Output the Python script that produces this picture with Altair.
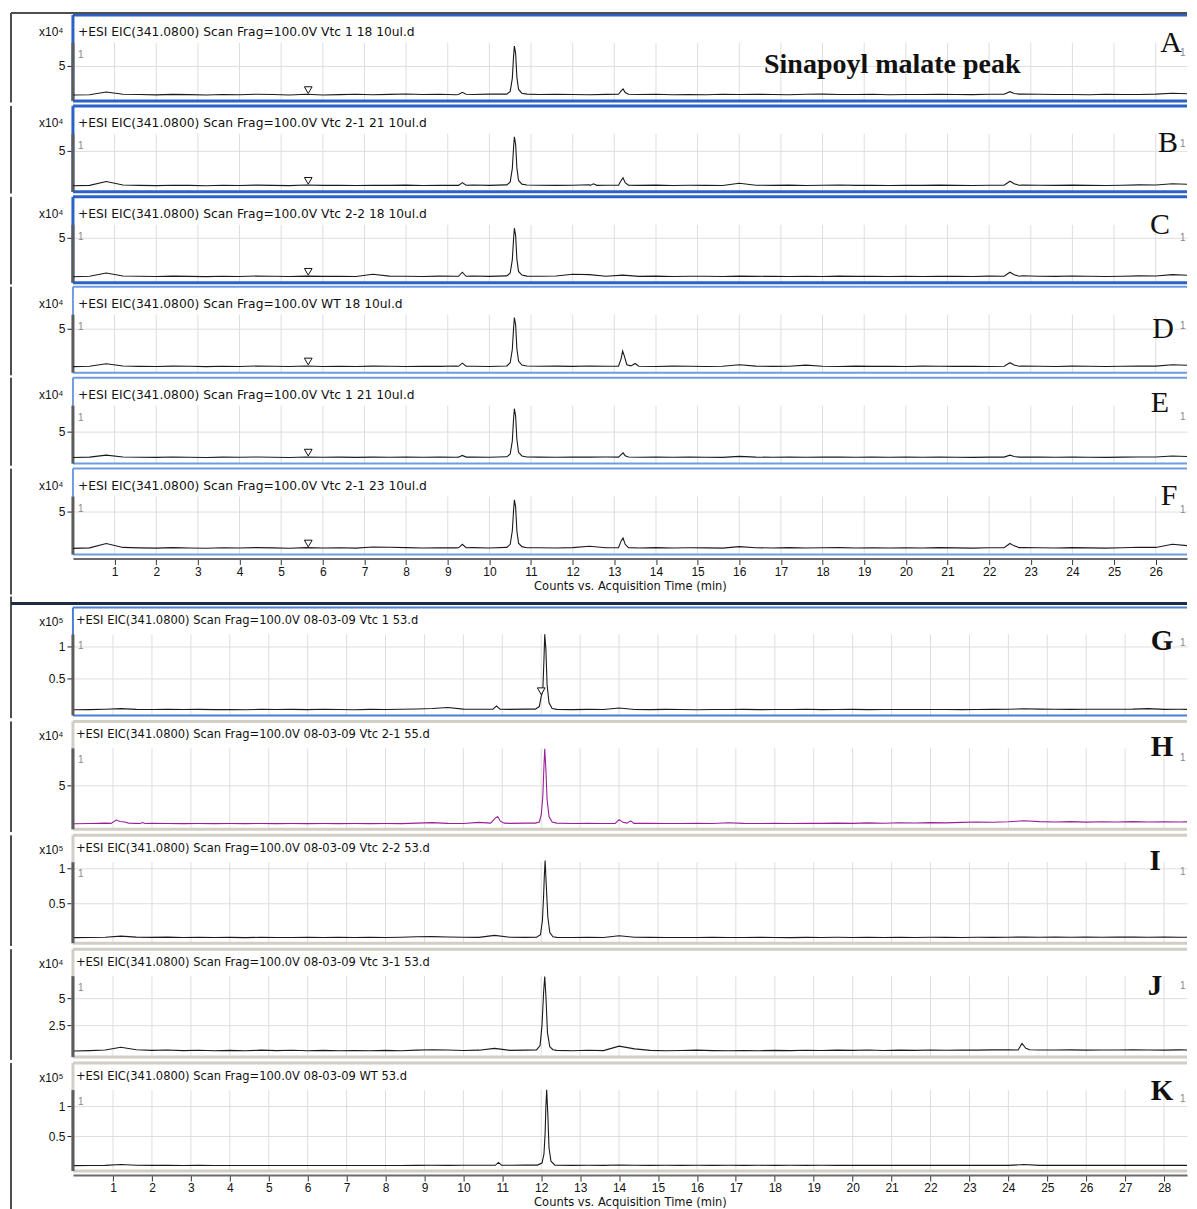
import altair as alt
import pandas as pd

# ---------------- data ----------------
TOP_GRID = [0.0, 0.4, 0.8, 1.2, 1.6, 2.0, 2.4, 2.8, 3.2, 3.6,
            4.0, 4.4, 4.8, 5.2, 5.6, 6.0, 6.4, 6.8, 7.2, 7.6,
            8.0, 8.4, 8.8, 9.2, 9.6, 10.0, 10.4, 10.8, 11.2, 11.6,
            12.0, 12.4, 12.8, 13.2, 13.6, 14.0, 14.4, 14.8, 15.2, 15.6,
            16.0, 16.4, 16.8, 17.2, 17.6, 18.0, 18.4, 18.8, 19.2, 19.6,
            20.0, 20.4, 20.8, 21.2, 21.6, 22.0, 22.4, 22.8, 23.2, 23.6,
            24.0, 24.4, 24.8, 25.2, 25.6, 26.0, 26.4, 26.8, 27.2]
BOT_GRID = [0.0, 0.4, 0.8, 1.2, 1.6, 2.0, 2.4, 2.8, 3.2, 3.6,
            4.0, 4.4, 4.8, 5.2, 5.6, 6.0, 6.4, 6.8, 7.2, 7.6,
            8.0, 8.4, 8.8, 9.2, 9.6, 10.0, 10.4, 10.8, 11.2, 11.6,
            12.0, 12.4, 12.8, 13.2, 13.6, 14.0, 14.4, 14.8, 15.2, 15.6,
            16.0, 16.4, 16.8, 17.2, 17.6, 18.0, 18.4, 18.8, 19.2, 19.6,
            20.0, 20.4, 20.8, 21.2, 21.6, 22.0, 22.4, 22.8, 23.2, 23.6,
            24.0, 24.4, 24.8, 25.2, 25.6, 26.0, 26.4, 26.8, 27.2, 27.6,
            28.0, 28.4, 28.8, 29.2]
TOP_TICKS = [1, 2, 3, 4, 5, 6, 7, 8, 9, 10, 11, 12, 13, 14, 15, 16, 17, 18, 19, 20,
             21, 22, 23, 24, 25, 26]
BOT_TICKS = [1, 2, 3, 4, 5, 6, 7, 8, 9, 10, 11, 12, 13, 14, 15, 16, 17, 18, 19, 20,
             21, 22, 23, 24, 25, 26, 27, 28]

# top block, x10^4 counts
A_BASE = [0.30, 0.36, 0.80, 0.42, 0.38, 0.33, 0.41, 0.37, 0.32, 0.40,
          0.36, 0.43, 0.38, 0.31, 0.44, 0.30, 0.37, 0.42, 0.35, 0.41,
          0.46, 0.38, 0.42, 0.36, 0.40, 0.45, 0.48, 0.44, 0.40, 0.42,
          0.38, 0.36, 0.41, 0.45, 0.38, 0.42, 0.36, 0.40, 0.35, 0.44,
          0.38, 0.42, 0.40, 0.36, 0.42, 0.45, 0.38, 0.40, 0.42, 0.36,
          0.40, 0.38, 0.42, 0.40, 0.37, 0.44, 0.45, 0.48, 0.42, 0.38,
          0.40, 0.36, 0.42, 0.40, 0.38, 0.45, 0.60, 0.50, 0.45]
A_PEAKS = [
    [(9.26, 0.40), (9.35, 0.75), (9.44, 0.42)],
    [(10.42, 0.45), (10.5, 0.9), (10.55, 3.0), (10.58, 6.5), (10.6, 8.2), (10.63, 7.0),
     (10.66, 3.2), (10.7, 1.2), (10.78, 0.6), (10.9, 0.45)],
    [(13.1, 0.42), (13.17, 1.0), (13.21, 1.3), (13.26, 0.7), (13.34, 0.42)],
    [(22.36, 0.42), (22.5, 0.85), (22.6, 0.55), (22.72, 0.45)],
]
B_BASE = [0.28, 0.33, 0.85, 0.38, 0.34, 0.30, 0.36, 0.33, 0.29, 0.35,
          0.32, 0.37, 0.34, 0.30, 0.38, 0.33, 0.36, 0.31, 0.35, 0.33,
          0.37, 0.32, 0.36, 0.34, 0.38, 0.33, 0.40, 0.38, 0.35, 0.33,
          0.36, 0.42, 0.36, 0.40, 0.33, 0.37, 0.32, 0.35, 0.34, 0.31,
          0.62, 0.36, 0.33, 0.37, 0.32, 0.35, 0.38, 0.33, 0.36, 0.32,
          0.35, 0.33, 0.37, 0.34, 0.31, 0.36, 0.40, 0.38, 0.36, 0.33,
          0.37, 0.34, 0.31, 0.36, 0.40, 0.38, 0.55, 0.48, 0.42]
B_PEAKS = [
    [(9.26, 0.34), (9.35, 0.7), (9.44, 0.35)],
    [(10.42, 0.4), (10.5, 0.8), (10.55, 2.6), (10.58, 5.4), (10.6, 6.9), (10.63, 5.9),
     (10.66, 2.7), (10.7, 1.0), (10.78, 0.5), (10.9, 0.38)],
    [(12.42, 0.33), (12.5, 0.55), (12.58, 0.34)],
    [(13.1, 0.35), (13.17, 1.05), (13.21, 1.35), (13.26, 0.7), (13.34, 0.36)],
    [(22.36, 0.35), (22.5, 0.9), (22.6, 0.55), (22.72, 0.36)],
]
C_BASE = [0.25, 0.30, 0.70, 0.34, 0.30, 0.27, 0.32, 0.29, 0.26, 0.31,
          0.28, 0.33, 0.30, 0.27, 0.32, 0.29, 0.31, 0.27, 0.55, 0.32,
          0.30, 0.27, 0.32, 0.30, 0.33, 0.29, 0.35, 0.34, 0.31, 0.33,
          0.55, 0.50, 0.31, 0.45, 0.29, 0.32, 0.28, 0.31, 0.30, 0.27,
          0.32, 0.29, 0.31, 0.27, 0.30, 0.28, 0.32, 0.29, 0.31, 0.27,
          0.30, 0.28, 0.31, 0.29, 0.27, 0.32, 0.35, 0.36, 0.31, 0.29,
          0.33, 0.30, 0.28, 0.31, 0.35, 0.33, 0.50, 0.42, 0.38]
C_PEAKS = [
    [(9.26, 0.30), (9.35, 0.8), (9.44, 0.30)],
    [(10.42, 0.35), (10.5, 0.7), (10.55, 2.3), (10.58, 4.8), (10.6, 6.2), (10.63, 5.3),
     (10.66, 2.4), (10.7, 0.9), (10.78, 0.45), (10.9, 0.32)],
    [(22.36, 0.30), (22.5, 0.8), (22.6, 0.5), (22.72, 0.31)],
]
D_BASE = [0.26, 0.30, 0.62, 0.34, 0.29, 0.27, 0.32, 0.30, 0.26, 0.31,
          0.28, 0.33, 0.30, 0.27, 0.33, 0.28, 0.31, 0.28, 0.32, 0.30,
          0.27, 0.31, 0.29, 0.33, 0.30, 0.28, 0.34, 0.33, 0.30, 0.32,
          0.29, 0.33, 0.30, 0.30, 0.31, 0.28, 0.32, 0.30, 0.27, 0.31,
          0.50, 0.32, 0.29, 0.31, 0.45, 0.30, 0.28, 0.32, 0.29, 0.31,
          0.28, 0.32, 0.30, 0.29, 0.31, 0.28, 0.32, 0.34, 0.30, 0.28,
          0.32, 0.30, 0.27, 0.31, 0.34, 0.32, 0.50, 0.42, 0.36]
D_PEAKS = [
    [(9.26, 0.30), (9.35, 0.7), (9.44, 0.31)],
    [(10.42, 0.35), (10.5, 0.75), (10.55, 2.4), (10.58, 5.0), (10.6, 6.4), (10.63, 5.5),
     (10.66, 2.5), (10.7, 0.95), (10.78, 0.45), (10.9, 0.33)],
    [(13.1, 0.32), (13.16, 1.2), (13.2, 2.2), (13.24, 1.6), (13.3, 0.5), (13.4, 0.35),
     (13.5, 0.65), (13.58, 0.33)],
    [(22.36, 0.30), (22.5, 0.75), (22.6, 0.45), (22.72, 0.30)],
]
E_BASE = [0.38, 0.44, 0.80, 0.48, 0.43, 0.40, 0.46, 0.42, 0.38, 0.45,
          0.41, 0.47, 0.43, 0.39, 0.48, 0.42, 0.45, 0.40, 0.44, 0.42,
          0.46, 0.41, 0.45, 0.43, 0.47, 0.42, 0.50, 0.48, 0.45, 0.43,
          0.47, 0.44, 0.46, 0.50, 0.43, 0.46, 0.41, 0.44, 0.43, 0.40,
          0.58, 0.45, 0.42, 0.46, 0.41, 0.44, 0.47, 0.42, 0.45, 0.41,
          0.44, 0.42, 0.46, 0.43, 0.40, 0.45, 0.48, 0.48, 0.45, 0.42,
          0.46, 0.43, 0.40, 0.45, 0.48, 0.46, 0.65, 0.55, 0.50]
E_PEAKS = [
    [(9.26, 0.44), (9.35, 0.75), (9.44, 0.45)],
    [(10.42, 0.5), (10.5, 1.0), (10.55, 3.3), (10.58, 7.2), (10.6, 9.1), (10.63, 7.8),
     (10.66, 3.6), (10.7, 1.3), (10.78, 0.65), (10.9, 0.48)],
    [(13.1, 0.45), (13.17, 0.95), (13.21, 1.2), (13.26, 0.7), (13.34, 0.46)],
    [(22.36, 0.45), (22.5, 0.8), (22.6, 0.55), (22.72, 0.45)],
]
F_BASE = [0.28, 0.34, 0.90, 0.40, 0.34, 0.31, 0.37, 0.33, 0.29, 0.36,
          0.32, 0.38, 0.34, 0.30, 0.38, 0.32, 0.36, 0.31, 0.45, 0.42,
          0.37, 0.32, 0.36, 0.34, 0.38, 0.33, 0.40, 0.38, 0.35, 0.33,
          0.38, 0.55, 0.36, 0.40, 0.33, 0.37, 0.32, 0.35, 0.34, 0.31,
          0.50, 0.36, 0.33, 0.37, 0.32, 0.35, 0.38, 0.33, 0.36, 0.32,
          0.35, 0.33, 0.37, 0.34, 0.31, 0.36, 0.40, 0.38, 0.36, 0.33,
          0.37, 0.34, 0.31, 0.36, 0.42, 0.40, 0.80, 0.60, 0.48]
F_PEAKS = [
    [(9.26, 0.35), (9.35, 0.8), (9.44, 0.36)],
    [(10.42, 0.4), (10.5, 0.8), (10.55, 2.5), (10.58, 5.1), (10.6, 6.5), (10.63, 5.6),
     (10.66, 2.5), (10.7, 0.95), (10.78, 0.5), (10.9, 0.36)],
    [(13.1, 0.36), (13.17, 1.3), (13.21, 1.6), (13.26, 0.8), (13.34, 0.37)],
    [(22.36, 0.36), (22.5, 0.9), (22.6, 0.6), (22.72, 0.38)],
]

# bottom block
G_BASE = [0.010, 0.012, 0.018, 0.028, 0.016, 0.014, 0.018, 0.013, 0.016, 0.012,
          0.015, 0.011, 0.017, 0.013, 0.016, 0.012, 0.018, 0.014, 0.011, 0.016,
          0.013, 0.017, 0.022, 0.030, 0.045, 0.020, 0.018, 0.025, 0.016, 0.020,
          0.025, 0.015, 0.012, 0.016, 0.013, 0.038, 0.015, 0.012, 0.016, 0.013,
          0.011, 0.015, 0.013, 0.016, 0.012, 0.015, 0.013, 0.017, 0.012, 0.014,
          0.016, 0.012, 0.013, 0.014, 0.015, 0.013, 0.014, 0.012, 0.015, 0.016,
          0.018, 0.026, 0.020, 0.018, 0.016, 0.019, 0.017, 0.018, 0.020, 0.028,
          0.016, 0.018, 0.015, 0.017]
G_PEAKS = [
    [(10.76, 0.018), (10.85, 0.07), (10.94, 0.02)],
    [(11.85, 0.02), (11.95, 0.06), (12.0, 0.22), (12.04, 0.3), (12.07, 0.8), (12.09, 1.19),
     (12.12, 0.95), (12.15, 0.4), (12.2, 0.12), (12.28, 0.03), (12.4, 0.016)],
]
H_BASE = [0.08, 0.10, 0.15, 0.45, 0.12, 0.12, 0.10, 0.09, 0.10, 0.09,
          0.10, 0.09, 0.10, 0.09, 0.10, 0.09, 0.10, 0.09, 0.10, 0.09,
          0.10, 0.09, 0.15, 0.22, 0.12, 0.10, 0.25, 0.30, 0.12, 0.15,
          0.20, 0.12, 0.10, 0.12, 0.10, 0.55, 0.12, 0.12, 0.10, 0.11,
          0.12, 0.10, 0.20, 0.12, 0.10, 0.13, 0.10, 0.14, 0.12, 0.15,
          0.12, 0.18, 0.14, 0.20, 0.17, 0.22, 0.18, 0.25, 0.30, 0.26,
          0.32, 0.45, 0.35, 0.30, 0.34, 0.28, 0.33, 0.30, 0.35, 0.30,
          0.33, 0.29, 0.34, 0.31]
H_PEAKS = [
    [(0.95, 0.12), (1.08, 0.55), (1.18, 0.35), (1.3, 0.3), (1.4, 0.15)],
    [(1.7, 0.10), (1.76, 0.22), (1.82, 0.10)],
    [(10.7, 0.15), (10.82, 0.8), (10.88, 1.0), (10.95, 0.4), (11.05, 0.15)],
    [(11.85, 0.15), (11.95, 0.3), (12.0, 1.2), (12.04, 3.5), (12.07, 7.5), (12.09, 9.7),
     (12.12, 7.0), (12.15, 3.2), (12.2, 1.0), (12.28, 0.3), (12.4, 0.15)],
    [(13.9, 0.12), (14.0, 0.6), (14.1, 0.25), (14.2, 0.15), (14.3, 0.45), (14.38, 0.12)],
]
I_BASE = [0.008, 0.010, 0.014, 0.030, 0.016, 0.012, 0.015, 0.011, 0.013, 0.010,
          0.012, 0.009, 0.013, 0.011, 0.010, 0.013, 0.011, 0.014, 0.010, 0.012,
          0.011, 0.014, 0.020, 0.022, 0.018, 0.013, 0.012, 0.040, 0.014, 0.012,
          0.016, 0.012, 0.010, 0.012, 0.011, 0.035, 0.014, 0.012, 0.010, 0.011,
          0.010, 0.012, 0.011, 0.010, 0.012, 0.011, 0.009, 0.012, 0.011, 0.013,
          0.011, 0.012, 0.010, 0.012, 0.011, 0.013, 0.012, 0.011, 0.013, 0.012,
          0.014, 0.016, 0.013, 0.015, 0.014, 0.016, 0.014, 0.015, 0.017, 0.014,
          0.015, 0.013, 0.016, 0.014]
I_PEAKS = [
    [(11.88, 0.014), (11.98, 0.05), (12.03, 0.25), (12.06, 0.6), (12.08, 0.9), (12.1, 1.11),
     (12.13, 0.75), (12.17, 0.3), (12.22, 0.08), (12.3, 0.02)],
]
J_BASE = [0.10, 0.14, 0.20, 0.45, 0.22, 0.16, 0.19, 0.14, 0.17, 0.13,
          0.16, 0.12, 0.18, 0.14, 0.17, 0.13, 0.16, 0.12, 0.15, 0.13,
          0.16, 0.13, 0.18, 0.22, 0.20, 0.15, 0.18, 0.35, 0.16, 0.18,
          0.22, 0.16, 0.13, 0.17, 0.14, 0.55, 0.30, 0.16, 0.13, 0.15,
          0.18, 0.14, 0.12, 0.15, 0.13, 0.16, 0.14, 0.17, 0.15, 0.18,
          0.16, 0.19, 0.15, 0.18, 0.16, 0.19, 0.17, 0.20, 0.18, 0.21,
          0.22, 0.30, 0.20, 0.19, 0.21, 0.18, 0.20, 0.19, 0.22, 0.20,
          0.18, 0.21, 0.19, 0.20]
J_PEAKS = [
    [(11.88, 0.2), (11.97, 0.6), (12.02, 2.5), (12.06, 5.5), (12.09, 7.0), (12.12, 5.2),
     (12.16, 1.8), (12.22, 0.5), (12.3, 0.22)],
    [(24.25, 0.2), (24.35, 0.8), (24.45, 0.35), (24.55, 0.22)],
]
K_BASE = [0.006, 0.008, 0.010, 0.025, 0.012, 0.010, 0.013, 0.009, 0.011, 0.008,
          0.008, 0.009, 0.008, 0.008, 0.009, 0.008, 0.008, 0.009, 0.008, 0.008,
          0.008, 0.009, 0.010, 0.012, 0.011, 0.013, 0.012, 0.013, 0.012, 0.015,
          0.018, 0.012, 0.010, 0.013, 0.011, 0.016, 0.012, 0.010, 0.013, 0.011,
          0.012, 0.010, 0.013, 0.011, 0.012, 0.010, 0.013, 0.011, 0.012, 0.010,
          0.011, 0.010, 0.010, 0.010, 0.010, 0.010, 0.010, 0.010, 0.010, 0.010,
          0.010, 0.025, 0.010, 0.010, 0.010, 0.010, 0.010, 0.010, 0.010, 0.010,
          0.010, 0.010, 0.010, 0.010]
K_PEAKS = [
    [(10.82, 0.012), (10.9, 0.06), (10.98, 0.013)],
    [(11.9, 0.015), (12.02, 0.05), (12.07, 0.2), (12.1, 0.55), (12.12, 1.0), (12.14, 1.27),
     (12.17, 0.85), (12.2, 0.3), (12.25, 0.08), (12.35, 0.015)],
]

# triangle markers (time, intensity)
MARK_TOP = {"A": (5.65, 1.1), "B": (5.65, 0.95), "C": (5.65, 0.85),
            "D": (5.65, 0.9), "E": (5.65, 1.25), "F": (5.65, 0.9)}
MARK_G = (12.0, 0.3)

HEADERS = {
    "A": "+ESI EIC(341.0800) Scan Frag=100.0V Vtc 1  18 10ul.d",
    "B": "+ESI EIC(341.0800) Scan Frag=100.0V Vtc 2-1 21 10ul.d",
    "C": "+ESI EIC(341.0800) Scan Frag=100.0V Vtc 2-2 18 10ul.d",
    "D": "+ESI EIC(341.0800) Scan Frag=100.0V WT 18  10ul.d",
    "E": "+ESI EIC(341.0800) Scan Frag=100.0V Vtc 1 21 10ul.d",
    "F": "+ESI EIC(341.0800) Scan Frag=100.0V Vtc 2-1 23 10ul.d",
    "G": "+ESI EIC(341.0800) Scan Frag=100.0V 08-03-09 Vtc 1 53.d",
    "H": "+ESI EIC(341.0800) Scan Frag=100.0V 08-03-09 Vtc 2-1 55.d",
    "I": "+ESI EIC(341.0800) Scan Frag=100.0V 08-03-09 Vtc 2-2 53.d",
    "J": "+ESI EIC(341.0800) Scan Frag=100.0V 08-03-09 Vtc 3-1 53.d",
    "K": "+ESI EIC(341.0800) Scan Frag=100.0V 08-03-09 WT 53.d",
}
YTICKS = {"A": [5], "B": [5], "C": [5], "D": [5], "E": [5], "F": [5],
          "G": [0.5, 1], "H": [5], "I": [0.5, 1], "J": [2.5, 5], "K": [0.5, 1]}
EXPONENT = {"A": "x10⁴", "B": "x10⁴", "C": "x10⁴", "D": "x10⁴", "E": "x10⁴", "F": "x10⁴",
            "G": "x10⁵", "H": "x10⁴", "I": "x10⁵", "J": "x10⁴", "K": "x10⁵"}

TRACES = {"A": (TOP_GRID, A_BASE, A_PEAKS), "B": (TOP_GRID, B_BASE, B_PEAKS),
          "C": (TOP_GRID, C_BASE, C_PEAKS), "D": (TOP_GRID, D_BASE, D_PEAKS),
          "E": (TOP_GRID, E_BASE, E_PEAKS), "F": (TOP_GRID, F_BASE, F_PEAKS),
          "G": (BOT_GRID, G_BASE, G_PEAKS), "H": (BOT_GRID, H_BASE, H_PEAKS),
          "I": (BOT_GRID, I_BASE, I_PEAKS), "J": (BOT_GRID, J_BASE, J_PEAKS),
          "K": (BOT_GRID, K_BASE, K_PEAKS)}

# ---------------- layout (pixels) ----------------
FONT = "Liberation Sans"
HFONT = "DejaVu Sans"
SERIF = "Liberation Serif"
W = 1115
PX_PER_MIN_TOP = 41.68
PX_PER_MIN_BOT = 38.96
BOT_X0 = -0.03
PXU = {"A": 6.2, "B": 7.4, "C": 8.2, "D": 8.0, "E": 5.6, "F": 7.8,
       "G": 64.0, "H": 7.8, "I": 70.0, "J": 10.8, "K": 60.0}
LETTER_POS = {"A": (1099, 28), "B": (1096, 37), "C": (1088, 28), "D": (1091, 42),
              "E": (1088, 25), "F": (1097, 27), "G": (1090, 34), "H": (1090, 26),
              "I": (1083, 26), "J": (1083, 37), "K": (1090, 28)}
ONE_Y = {"A": 38, "B": 38, "C": 41, "D": 39, "E": 39, "F": 41,
         "G": 36, "H": 37, "I": 37, "J": 37, "K": 36}
BOX = {"A": ("#2a62c6", 3), "B": ("#2a62c6", 3), "C": ("#2a62c6", 3),
       "D": ("#6f9be0", 2), "E": ("#6f9be0", 2), "F": ("#6f9be0", 2),
       "G": ("#4a7fd6", 2), "H": ("#d2cec6", 3), "I": ("#d2cec6", 3),
       "J": ("#d2cec6", 3), "K": ("#d2cec6", 3)}
# left outer border segment (top, bottom) for each panel, relative to the panel
FRAME_SEG = {"A": (-2, 87.6), "B": (0, 87.6), "C": (0, 87.6), "D": (0, 88.6),
             "E": (0, 88.1), "F": (0, 126), "G": (-11, 110.75), "H": (0, 110.75),
             "I": (0, 110.75), "J": (0, 110.75), "K": (0, 1300)}
ONE = pd.DataFrame({"k": [0]})


def trace_frame(grid, base, peaks):
    pts = list(zip(grid, base))
    spans = [(p[0][0], p[-1][0]) for p in peaks]
    pts = [(t, v) for t, v in pts if not any(a <= t <= b for a, b in spans)]
    for p in peaks:
        pts.extend(p)
    pts.sort()
    return pd.DataFrame(pts, columns=["t", "v"])


def rule(color, width, **enc):
    return alt.Chart(ONE).mark_rule(color=color, strokeWidth=width).encode(**enc)


def text(s, x, y, **kw):
    return alt.Chart(ONE).mark_text(**kw).encode(
        x=alt.value(x), y=alt.value(y), text=alt.value(s))


def panel(key, top_block, xaxis=None, extra=None):
    if top_block:
        H, zero, gtop, hy, hx, ticks = 86, 82, 28, 17, 5, TOP_TICKS
        x0 = 0.0
        xmax = W / PX_PER_MIN_TOP
    else:
        H, zero, gtop, hy, hx, ticks = 108, 103, 27, 14, 3, BOT_TICKS
        x0 = BOT_X0
        xmax = BOT_X0 + W / PX_PER_MIN_BOT
    s = PXU[key]
    lo, hi = -(H - zero) / s, zero / s
    xenc = alt.X("t:Q", scale=alt.Scale(domain=[x0, xmax], nice=False, zero=False),
                 axis=xaxis)
    yaxis = alt.Axis(values=YTICKS[key], format=".3~g", grid=True, gridColor="#dedede",
                     domain=False, tickColor="#222", tickSize=6, labelFontSize=12,
                     labelPadding=2, labelColor="#111", labelFont=FONT,
                     title=EXPONENT[key], titleAngle=0, titleX=-10, titleY=hy,
                     titleAlign="right", titleBaseline="middle", titleFontSize=12,
                     titleFontWeight="normal", titleColor="#111", titleFont=FONT)
    yenc = alt.Y("v:Q", scale=alt.Scale(domain=[lo, hi], nice=False, zero=False), axis=yaxis)

    bc, bw = BOX[key]
    f0, f1 = FRAME_SEG[key]
    grid_df = pd.DataFrame({"t": [v for v in ticks if v < xmax]})
    layers = [
        alt.Chart(grid_df).mark_rule(color="#dedede", strokeWidth=1).encode(
            x=xenc, y=alt.value(gtop), y2=alt.value(H)),
        rule(bc, bw, x=alt.value(0), x2=alt.value(W), y=alt.value(0)),
        rule(bc, bw, x=alt.value(0), x2=alt.value(W), y=alt.value(H)),
        rule(bc, bw, x=alt.value(0), y=alt.value(0), y2=alt.value(H)),
        rule("#5c5c5c", 3, x=alt.value(0), y=alt.value(gtop), y2=alt.value(H)),
        rule("#4e4e4e", 2, x=alt.value(-62), y=alt.value(f0), y2=alt.value(f1)),
    ]
    color = "#9a1f9a" if key == "H" else "#1a1a1a"
    df = trace_frame(*TRACES[key])
    layers.append(alt.Chart(df).mark_line(color=color, strokeWidth=1.1, clip=True).encode(
        x=xenc, y=yenc))
    mk = MARK_TOP.get(key) if top_block else (MARK_G if key == "G" else None)
    if mk is not None:
        layers.append(alt.Chart(pd.DataFrame({"t": [mk[0]], "v": [mk[1]]})).mark_point(
            shape="triangle-down", size=60, filled=True, fill="white", stroke="#111",
            strokeWidth=1, opacity=1).encode(x=xenc, y=yenc))
    layers.append(text(HEADERS[key], hx, hy, align="left", baseline="middle",
                       fontSize=12.3 if top_block else 11.5, font=HFONT, color="#111"))
    layers.append(text("1", 5, gtop + 12, align="left", baseline="middle", fontSize=10,
                       font=FONT, color="#888"))
    lx, ly = LETTER_POS[key]
    layers.append(text(key, lx, ly, align="center", baseline="middle",
                       fontSize=30 if top_block else 29, font=SERIF,
                       fontWeight="normal" if top_block else "bold", color="#111"))
    layers.append(text("1", 1108, ONE_Y[key], align="left", baseline="middle",
                       fontSize=10, font=FONT, color="#888"))
    if extra:
        layers.extend(extra)
    return alt.layer(*layers).properties(width=W, height=H)


def xaxis(values):
    return alt.Axis(values=values, format="d", title="Counts vs. Acquisition Time (min)",
                    labelFontSize=12, labelFont=FONT, labelColor="#111", tickSize=6,
                    tickColor="#333", domainColor="#6a6a6a", domainWidth=2, offset=4,
                    grid=False, labelPadding=2, titleFontSize=11.5, titleFont=HFONT,
                    titleFontWeight="normal", titleColor="#111", titlePadding=3)


frame_a = [
    rule("#4e4e4e", 2, x=alt.value(-62), x2=alt.value(W), y=alt.value(-2)),
    text("Sinapoyl malate peak", 820, 50, align="center", baseline="middle", fontSize=28,
         font=SERIF, fontWeight="bold", color="#111"),
]
frame_g = [
    rule("#1f2a44", 3, x=alt.value(-62), x2=alt.value(W), y=alt.value(-4)),
]

top_panels = [
    panel("A", True, extra=frame_a),
    panel("B", True),
    panel("C", True),
    panel("D", True),
    panel("E", True),
    panel("F", True, xaxis=xaxis(TOP_TICKS)),
]
bot_panels = [
    panel("G", False, extra=frame_g),
    panel("H", False),
    panel("I", False),
    panel("J", False),
    panel("K", False, xaxis=xaxis(BOT_TICKS)),
]

top_block = alt.vconcat(*top_panels, spacing=0).resolve_scale(
    x="independent", y="independent")
bot_block = alt.vconcat(*bot_panels, spacing=0).resolve_scale(
    x="independent", y="independent")
chart = alt.vconcat(top_block, bot_block, spacing=0).resolve_scale(
    x="independent", y="independent").properties(
    padding={"left": 1, "top": 3, "right": 0, "bottom": 0},
    background="white",
).configure(font=FONT).configure_view(stroke=None)

chart.save("out.html", embed_options={"renderer": "svg", "actions": False})
